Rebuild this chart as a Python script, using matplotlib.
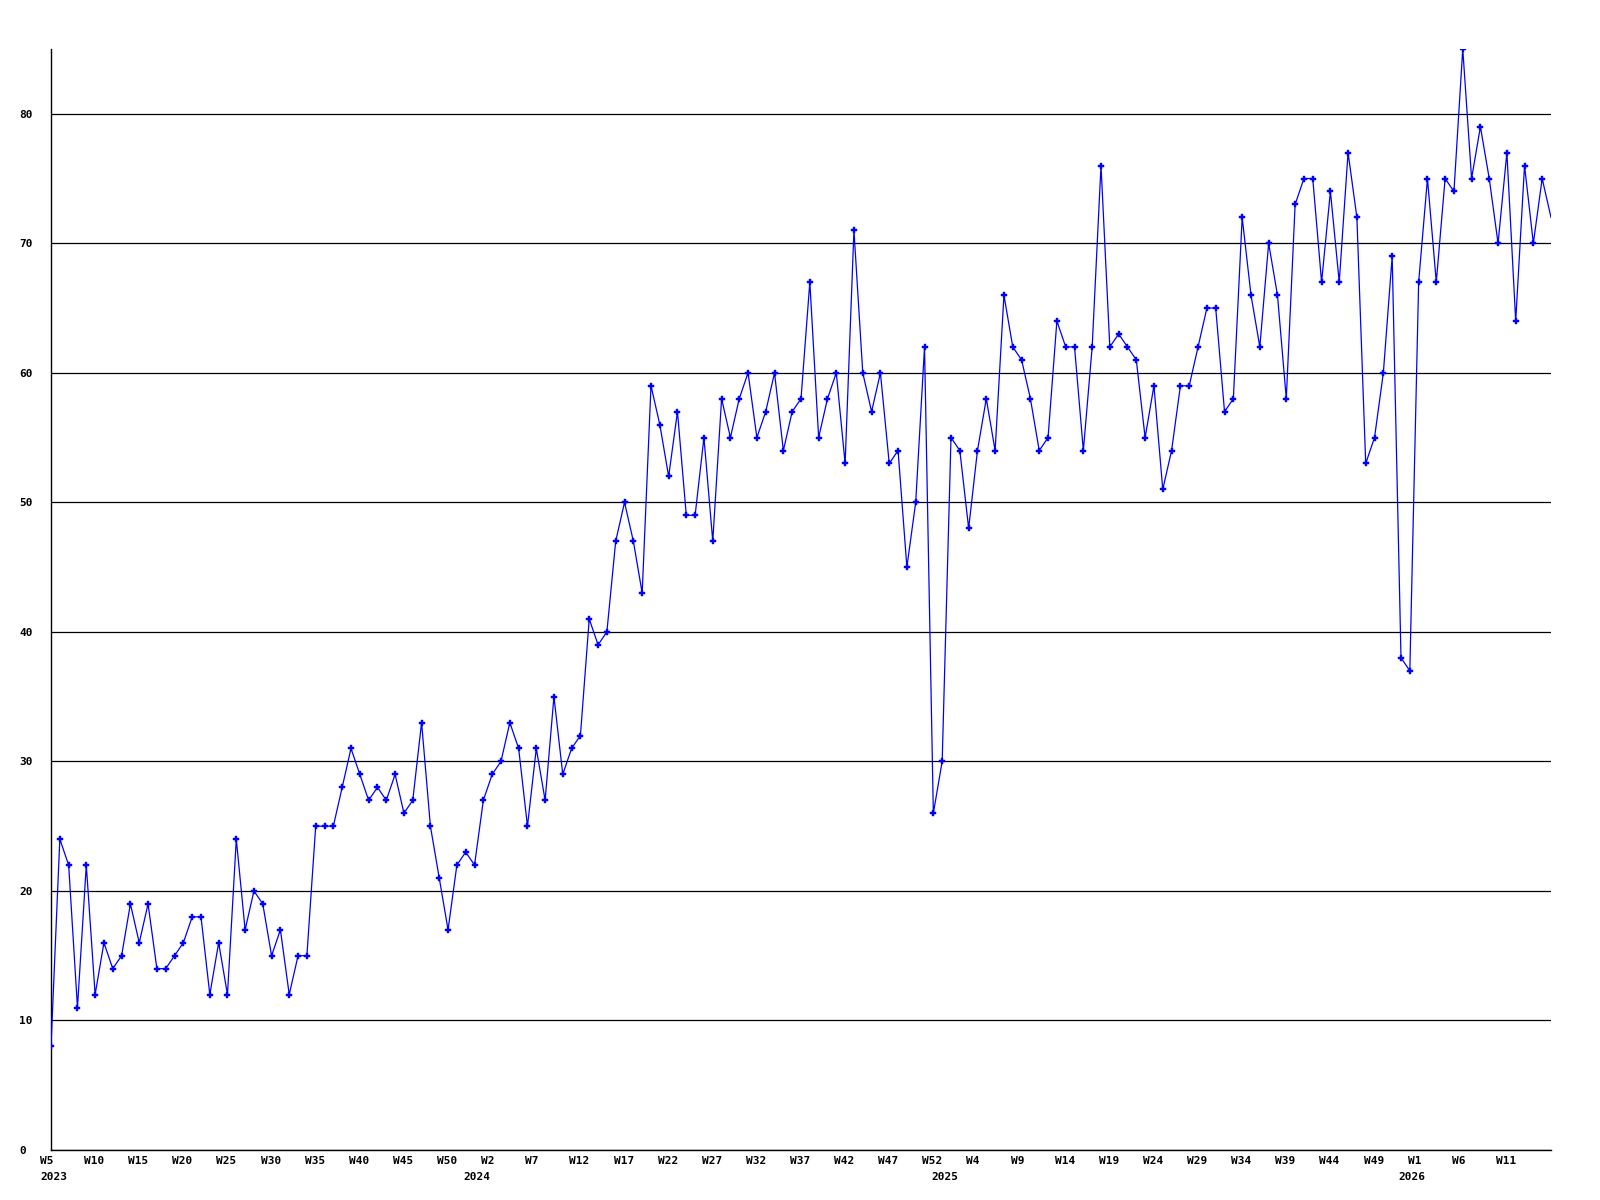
import matplotlib
matplotlib.use("Agg")
import matplotlib.pyplot as plt
from matplotlib.transforms import ScaledTranslation

# ---- data ----
values = [8, 24, 22, 11, 22, 12, 16, 14, 15, 19,
          16, 19, 14, 14, 15, 16, 18, 18, 12, 16,
          12, 24, 17, 20, 19, 15, 17, 12, 15, 15,
          25, 25, 25, 28, 31, 29, 27, 28, 27, 29,
          26, 27, 33, 25, 21, 17, 22, 23, 22, 27,
          29, 30, 33, 31, 25, 31, 27, 35, 29, 31,
          32, 41, 39, 40, 47, 50, 47, 43, 59, 56,
          52, 57, 49, 49, 55, 47, 58, 55, 58, 60,
          55, 57, 60, 54, 57, 58, 67, 55, 58, 60,
          53, 71, 60, 57, 60, 53, 54, 45, 50, 62,
          26, 30, 55, 54, 48, 54, 58, 54, 66, 62,
          61, 58, 54, 55, 64, 62, 62, 54, 62, 76,
          62, 63, 62, 61, 55, 59, 51, 54, 59, 59,
          62, 65, 65, 57, 58, 72, 66, 62, 70, 66,
          58, 73, 75, 75, 67, 74, 67, 77, 72, 53,
          55, 60, 69, 38, 37, 67, 75, 67, 75, 74,
          85, 75, 79, 75, 70, 77, 64, 76, 70, 75,
          72]

week_labels = ["W5", "W10", "W15", "W20", "W25", "W30", "W35", "W40", "W45", "W50",
               "W2", "W7", "W12", "W17", "W22", "W27", "W32", "W37", "W42", "W47", "W52",
               "W4", "W9", "W14", "W19", "W24", "W29", "W34", "W39", "W44", "W49",
               "W1", "W6", "W11"]
year_labels = ["2023", "2024", "2025", "2026"]
year_index = [0, 48, 101, 154]
y_ticks = [0, 10, 20, 30, 40, 50, 60, 70, 80]

# ---- figure ----
fig = plt.figure(figsize=(16, 12), dpi=100)
ax = fig.add_axes([51 / 1600, 1 - 1150 / 1200, 1500 / 1600, 1101 / 1200])

x = list(range(len(values)))
ax.plot(x, values, color="#0000FF", lw=0.9, zorder=3)
ax.plot(x[:-1], values[:-1], linestyle="none", marker="P", markersize=4.2,
        markerfacecolor="#0000FF", markeredgecolor="#0000FF", markeredgewidth=0.3,
        zorder=4)

ax.set_xlim(0, len(values) - 1)
ax.set_ylim(0, max(values))

for s in ["top", "right"]:
    ax.spines[s].set_visible(False)
for s in ["left", "bottom"]:
    ax.spines[s].set_color("black")
    ax.spines[s].set_linewidth(1.0)

ax.set_yticks(y_ticks)
ax.yaxis.grid(True, color="black", lw=0.9)
ax.set_axisbelow(True)

font = dict(family="DejaVu Sans Mono", weight="bold", size=8)

ax.set_yticklabels([str(v) for v in y_ticks], **font)
ax.tick_params(axis="y", length=0, pad=23)
for lab in ax.get_yticklabels():
    lab.set_ha("left")

ax.set_xticks(list(range(0, 5 * len(week_labels), 5)))
ax.set_xticklabels(week_labels, **font)
ax.tick_params(axis="x", length=0, pad=4)
off = ScaledTranslation(-11 / 100, 0, fig.dpi_scale_trans)
for lab in ax.get_xticklabels():
    lab.set_ha("left")
    lab.set_transform(lab.get_transform() + off)

for yl, xi in zip(year_labels, year_index):
    ax.annotate(yl, xy=(xi, 0), xycoords=("data", "axes fraction"),
                xytext=(-11 * 0.72, -27 * 0.72), textcoords="offset points",
                ha="left", va="center", annotation_clip=False, **font)

fig.savefig("out.png", dpi=100, facecolor="white")
